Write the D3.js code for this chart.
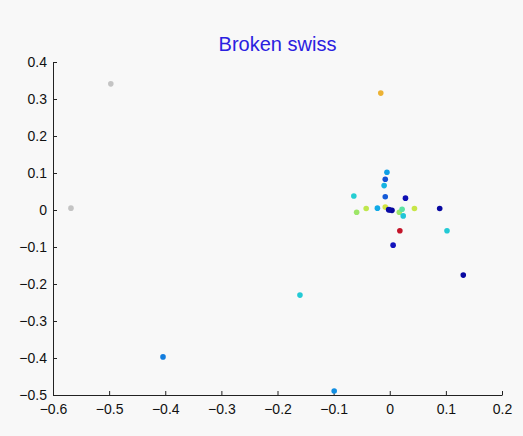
<!DOCTYPE html>
<html>
<head>
<meta charset="utf-8">
<script src="https://cdn.jsdelivr.net/npm/d3@7"></script>
<style>
  body { margin: 0; background: #f8f8f8; }
  svg { display: block; }
  text { font-family: "Liberation Sans", Helvetica, Arial, sans-serif; }
</style>
</head>
<body>
<div id="chart"></div>
<script>
// embedded points (x, y) and their colour value on a jet-like map
const ptX = [-0.016, -0.005, -0.008, -0.010, -0.008, -0.064, 0.028, 0.089, -0.059, -0.042,
             -0.022, -0.008, 0.000, 0.004, -0.002, 0.017, 0.022, 0.024, 0.044, 0.018,
             0.102, 0.131, 0.006, -0.160, -0.404, -0.099];
const ptY = [0.316, 0.102, 0.083, 0.066, 0.036, 0.038, 0.032, 0.004, -0.006, 0.004,
             0.005, 0.008, 0.000, -0.001, 0.001, -0.006, 0.002, -0.016, 0.004, -0.056,
             -0.056, -0.176, -0.095, -0.230, -0.397, -0.489];
const ptC = [0.78, 0.36, 0.22, 0.40, 0.24, 0.46, 0.08, 0.04, 0.60, 0.64,
             0.38, 0.68, 0.02, 0.03, 0.05, 0.60, 0.54, 0.44, 0.66, 0.92,
             0.45, 0.04, 0.10, 0.45, 0.30, 0.33];
// points drawn in grey
const greyX = [-0.497, -0.568];
const greyY = [0.341, 0.005];

const xTicks = [-0.6, -0.5, -0.4, -0.3, -0.2, -0.1, 0, 0.1, 0.2];
const yTicks = [0.4, 0.3, 0.2, 0.1, 0, -0.1, -0.2, -0.3, -0.4, -0.5];
const title = "Broken swiss";

const W = 523, H = 436;
var margin = {top: 62, right: 21, bottom: 41, left: 53},
    width = W - margin.left - margin.right,
    height = H - margin.top - margin.bottom;

var svg = d3.select("#chart").append("svg")
    .attr("width", W).attr("height", H);

svg.append("rect").attr("width", W).attr("height", H).attr("fill", "#f8f8f8");

var g = svg.append("g")
    .attr("transform", "translate(" + margin.left + "," + margin.top + ")");

var x = d3.scaleLinear().domain([-0.6, 0.2]).range([0, width]);
var y = d3.scaleLinear().domain([-0.5, 0.4]).range([height, 0]);

// jet-ish colour map
var jet = d3.scaleLinear()
    .domain([0, 0.125, 0.375, 0.5, 0.625, 0.75, 0.875, 1])
    .range(["#00008f", "#1818c8", "#10a8e8", "#30e0c8", "#b8e850", "#f0e030", "#e02040", "#900000"]);

const fmt = d3.format(".1f");
const tickFmt = v => v === 0 ? "0" : fmt(v);

var xAxis = d3.axisBottom(x).tickValues(xTicks).tickFormat(tickFmt)
    .tickSizeInner(-4).tickSizeOuter(0).tickPadding(9);
var yAxis = d3.axisLeft(y).tickValues(yTicks).tickFormat(tickFmt)
    .tickSizeInner(-4).tickSizeOuter(0).tickPadding(6);

var gx = g.append("g").attr("transform", "translate(0," + height + ")").call(xAxis);
var gy = g.append("g").call(yAxis);
[gx, gy].forEach(a => {
    a.selectAll("text").attr("font-size", 14).attr("fill", "#111")
        .attr("font-family", "'Liberation Sans', Helvetica, Arial, sans-serif");
    a.selectAll("line, path").attr("stroke", "#222");
});

g.append("text")
    .attr("x", width / 2).attr("y", -11)
    .attr("text-anchor", "middle")
    .attr("font-size", 20)
    .attr("fill", "#2a20e0")
    .text(title);

const pts = ptX.map((v, i) => ({x: v, y: ptY[i], c: ptC[i]}));
const greys = greyX.map((v, i) => ({x: v, y: greyY[i]}));

g.append("g").selectAll("circle.grey")
    .data(greys).enter().append("circle")
    .attr("cx", d => x(d.x)).attr("cy", d => y(d.y))
    .attr("r", 2.8).attr("fill", "#c4c4c4");

g.append("g").selectAll("circle.pt")
    .data(pts).enter().append("circle")
    .attr("cx", d => x(d.x)).attr("cy", d => y(d.y))
    .attr("r", 2.8).attr("fill", d => jet(d.c));
</script>
</body>
</html>
